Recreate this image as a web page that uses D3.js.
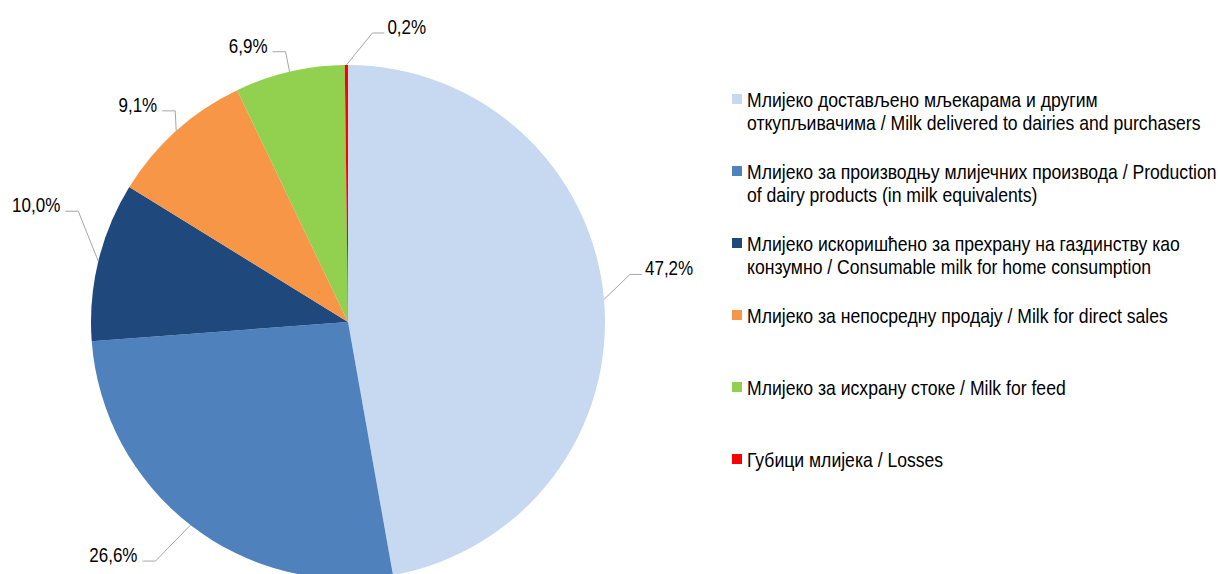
<!DOCTYPE html>
<html>
<head>
<meta charset="utf-8">
<script src="https://cdn.jsdelivr.net/npm/d3@7"></script>
<style>
body{margin:0;background:#fff;}
svg{display:block;font-family:"Liberation Sans",Arial,sans-serif;}
</style>
</head>
<body>
<div id="chart"></div>
<script>
// milk use shares, %
var categories=[
	"Млијеко достављено мљекарама и другим|откупљивачима / Milk delivered to dairies and purchasers",
	"Млијеко за производњу млијечних производа / Production|of dairy products (in milk equivalents)",
	"Млијеко искоришћено за прехрану на газдинству као|конзумно / Consumable milk for home consumption",
	"Млијеко за непосредну продају / Milk for direct sales",
	"Млијеко за исхрану стоке / Milk for feed",
	"Губици млијека / Losses"
];
var values=[47.2,26.6,10.0,9.1,6.9,0.2];
var valueLabels=["47,2%","26,6%","10,0%","9,1%","6,9%","0,2%"];
var colors=["#C6D9F1","#4F81BD","#1F497D","#F79646","#92D050","#FF0000"];

var width=1218, height=574;
var cx=348, cy=322, radius=257;
var narrowLeg=0.88, narrowLab=0.85; // no Arial Narrow here, squeeze Liberation Sans instead
// leader elbow offsets from the slice edge (Excel's own label placement)
var elbowNudge=[[26,-25],[-35,36],[-20,-50],[-1,-20],[-4,-20],[26,-32]];

var svg=d3.select("#chart").append("svg").attr("width",width).attr("height",height);
var g=svg.append("g").attr("transform","translate("+cx+","+cy+")");

var pie=d3.pie().sort(null).value(function(d){return d;});
var arcs=pie(values);
var arc=d3.arc().innerRadius(0).outerRadius(radius);

g.selectAll("path.slice").data(arcs).enter().append("path")
	.attr("class","slice")
	.attr("d",arc)
	.attr("fill",function(d,i){return colors[i];});

// leader lines + labels
arcs.forEach(function(d,i){
	var a=(d.startAngle+d.endAngle)/2;
	var ex=Math.sin(a)*radius, ey=-Math.cos(a)*radius;
	var bx=ex+elbowNudge[i][0], by=ey+elbowNudge[i][1];
	var right=Math.sin(a)>0.05 || i==5;
	var hx=bx+(right?12:-13);
	g.append("polyline")
		.attr("points",[[ex,ey],[bx,by],[hx,by]].map(function(p){return p.join(",");}).join(" "))
		.attr("fill","none").attr("stroke","#A6A6A6").attr("stroke-width",1);
	g.append("text")
		.attr("transform","translate("+(hx+(right?3:-5))+","+(by-6)+") scale("+narrowLab+",1)")
		.attr("dy","0.35em")
		.attr("text-anchor",right?"start":"end")
		.attr("font-size",20)
		.attr("fill","#000")
		.text(valueLabels[i]);
});

// legend
var leg=svg.append("g").attr("transform","translate(732,99)");
var item=leg.selectAll("g").data(categories).enter().append("g")
	.attr("transform",function(d,i){return "translate(0,"+(i*72)+")";});
item.append("rect").attr("x",0).attr("y",-5).attr("width",10).attr("height",10)
	.attr("fill",function(d,i){return colors[i];});
item.append("text").attr("transform","translate(15,1) scale("+narrowLeg+",1)")
	.attr("font-size",20).attr("fill","#000")
	.selectAll("tspan").data(function(d){return d.split("|");}).enter().append("tspan")
	.attr("x",0).attr("dy",function(d,j){return j==0?"0.35em":"23px";})
	.text(function(d){return d;});
</script>
</body>
</html>
